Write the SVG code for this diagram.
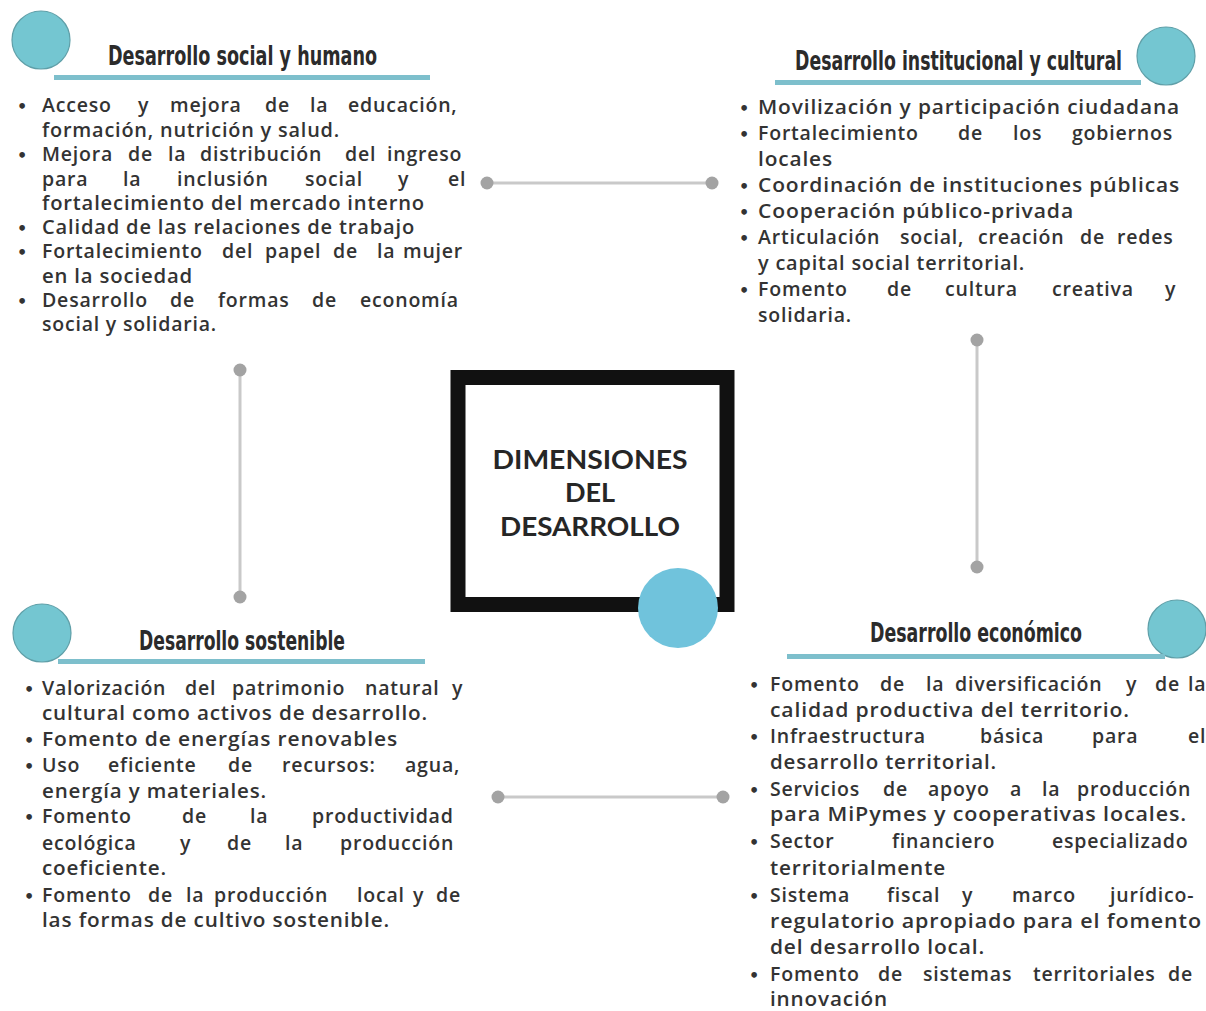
<svg xmlns="http://www.w3.org/2000/svg" width="1206" height="1011" viewBox="0 0 1206 1011">
<style>
.b{font-family:"Open Sans","Liberation Sans",sans-serif;font-size:19.5px;font-weight:600;letter-spacing:0.8px;fill:#333}
.bul{font-family:"DejaVu Sans",sans-serif;font-size:16px;font-weight:bold;fill:#333}
.h{font-family:"DejaVu Sans Condensed","DejaVu Sans","Liberation Sans",sans-serif;font-stretch:condensed;font-size:27px;font-weight:bold;fill:#2b2b2b}
.ul{fill:#7dbfcc}
.dot{fill:#74c6d1;stroke:#5f9fa8;stroke-width:1.2}
.c{font-family:Lato,"Liberation Sans",sans-serif;font-size:27px;font-weight:bold;fill:#262626;text-anchor:middle}
.ln{stroke:#c9c9c9;stroke-width:3;fill:none}
.ep{fill:#a3a3a3}
</style>
<rect width="1206" height="1011" fill="#ffffff"/>

<g id="connectors">
<line class="ln" x1="487" y1="183" x2="712" y2="183"/><circle class="ep" cx="487" cy="183" r="6.5"/><circle class="ep" cx="712" cy="183" r="6.5"/>
<line class="ln" x1="240" y1="370" x2="240" y2="597"/><circle class="ep" cx="240" cy="370" r="6.5"/><circle class="ep" cx="240" cy="597" r="6.5"/>
<line class="ln" x1="977" y1="340" x2="977" y2="567"/><circle class="ep" cx="977" cy="340" r="6.5"/><circle class="ep" cx="977" cy="567" r="6.5"/>
<line class="ln" x1="498" y1="797" x2="723" y2="797"/><circle class="ep" cx="498" cy="797" r="6.5"/><circle class="ep" cx="723" cy="797" r="6.5"/>
</g>

<g id="center">
<rect x="458" y="377.5" width="269" height="227" fill="#fff" stroke="#111" stroke-width="15"/>
<text class="c" x="590" y="469" textLength="195" lengthAdjust="spacingAndGlyphs">DIMENSIONES</text>
<text class="c" x="590" y="502">DEL</text>
<text class="c" x="590" y="536" textLength="180" lengthAdjust="spacingAndGlyphs">DESARROLLO</text>
<circle cx="678" cy="608" r="40" fill="#70c3dc"/>
</g>

<g id="social">
<circle class="dot" cx="41" cy="40" r="29"/>
<text class="h" x="108" y="65" textLength="269" lengthAdjust="spacingAndGlyphs">Desarrollo social y humano</text>
<rect class="ul" x="54" y="75" width="376" height="5"/>
<text class="bul" x="17" y="112">•</text>
<text class="b" y="112"><tspan x="42">Acceso</tspan><tspan x="138">y</tspan><tspan x="170">mejora</tspan><tspan x="265">de</tspan><tspan x="310">la</tspan><tspan x="348">educación,</tspan></text>
<text class="b" x="42" y="137" textLength="298" lengthAdjust="spacingAndGlyphs">formación, nutrición y salud.</text>
<text class="bul" x="17" y="161">•</text>
<text class="b" y="161"><tspan x="42">Mejora</tspan><tspan x="128">de</tspan><tspan x="168">la</tspan><tspan x="200">distribución</tspan><tspan x="345">del</tspan><tspan x="387">ingreso</tspan></text>
<text class="b" y="186"><tspan x="42">para</tspan><tspan x="123">la</tspan><tspan x="177">inclusión</tspan><tspan x="305">social</tspan><tspan x="398">y</tspan><tspan x="448">el</tspan></text>
<text class="b" x="42" y="210" textLength="383" lengthAdjust="spacingAndGlyphs">fortalecimiento del mercado interno</text>
<text class="bul" x="17" y="234">•</text>
<text class="b" x="42" y="234" textLength="373" lengthAdjust="spacingAndGlyphs">Calidad de las relaciones de trabajo</text>
<text class="bul" x="17" y="258">•</text>
<text class="b" y="258"><tspan x="42">Fortalecimiento</tspan><tspan x="222">del</tspan><tspan x="265">papel</tspan><tspan x="333">de</tspan><tspan x="377">la</tspan><tspan x="403">mujer</tspan></text>
<text class="b" x="42" y="283" textLength="151" lengthAdjust="spacingAndGlyphs">en la sociedad</text>
<text class="bul" x="17" y="307">•</text>
<text class="b" y="307"><tspan x="42">Desarrollo</tspan><tspan x="170">de</tspan><tspan x="218">formas</tspan><tspan x="312">de</tspan><tspan x="360">economía</tspan></text>
<text class="b" x="42" y="331" textLength="175" lengthAdjust="spacingAndGlyphs">social y solidaria.</text>
</g>

<g id="institucional">
<circle class="dot" cx="1166" cy="56" r="29"/>
<text class="h" x="795" y="70" textLength="327" lengthAdjust="spacingAndGlyphs">Desarrollo institucional y cultural</text>
<rect class="ul" x="775" y="80" width="366" height="5"/>
<text class="bul" x="739" y="114">•</text>
<text class="b" x="758" y="114" textLength="422" lengthAdjust="spacingAndGlyphs">Movilización y participación ciudadana</text>
<text class="bul" x="739" y="140">•</text>
<text class="b" y="140"><tspan x="758">Fortalecimiento</tspan><tspan x="958">de</tspan><tspan x="1013">los</tspan><tspan x="1072">gobiernos</tspan></text>
<text class="b" x="758" y="166" textLength="75" lengthAdjust="spacingAndGlyphs">locales</text>
<text class="bul" x="739" y="192">•</text>
<text class="b" x="758" y="192" textLength="422" lengthAdjust="spacingAndGlyphs">Coordinación de instituciones públicas</text>
<text class="bul" x="739" y="218">•</text>
<text class="b" x="758" y="218" textLength="316" lengthAdjust="spacingAndGlyphs">Cooperación público-privada</text>
<text class="bul" x="739" y="244">•</text>
<text class="b" y="244"><tspan x="758">Articulación</tspan><tspan x="900">social,</tspan><tspan x="978">creación</tspan><tspan x="1080">de</tspan><tspan x="1117">redes</tspan></text>
<text class="b" x="758" y="270" textLength="267" lengthAdjust="spacingAndGlyphs">y capital social territorial.</text>
<text class="bul" x="739" y="296">•</text>
<text class="b" y="296"><tspan x="758">Fomento</tspan><tspan x="887">de</tspan><tspan x="945">cultura</tspan><tspan x="1052">creativa</tspan><tspan x="1165">y</tspan></text>
<text class="b" x="758" y="322" textLength="94" lengthAdjust="spacingAndGlyphs">solidaria.</text>
</g>

<g id="sostenible">
<circle class="dot" cx="42" cy="633" r="29"/>
<text class="h" x="139" y="650" textLength="206" lengthAdjust="spacingAndGlyphs">Desarrollo sostenible</text>
<rect class="ul" x="58" y="659" width="367" height="5"/>
<text class="bul" x="24" y="695">•</text>
<text class="b" y="695"><tspan x="42">Valorización</tspan><tspan x="185">del</tspan><tspan x="232">patrimonio</tspan><tspan x="365">natural</tspan><tspan x="452">y</tspan></text>
<text class="b" x="42" y="720" textLength="386" lengthAdjust="spacingAndGlyphs">cultural como activos de desarrollo.</text>
<text class="bul" x="24" y="746">•</text>
<text class="b" x="42" y="746" textLength="356" lengthAdjust="spacingAndGlyphs">Fomento de energías renovables</text>
<text class="bul" x="24" y="772">•</text>
<text class="b" y="772"><tspan x="42">Uso</tspan><tspan x="108">eficiente</tspan><tspan x="228">de</tspan><tspan x="282">recursos:</tspan><tspan x="405">agua,</tspan></text>
<text class="b" x="42" y="798" textLength="225" lengthAdjust="spacingAndGlyphs">energía y materiales.</text>
<text class="bul" x="24" y="823">•</text>
<text class="b" y="823"><tspan x="42">Fomento</tspan><tspan x="182">de</tspan><tspan x="250">la</tspan><tspan x="312">productividad</tspan></text>
<text class="b" y="850"><tspan x="42">ecológica</tspan><tspan x="180">y</tspan><tspan x="227">de</tspan><tspan x="285">la</tspan><tspan x="340">producción</tspan></text>
<text class="b" x="42" y="875" textLength="125" lengthAdjust="spacingAndGlyphs">coeficiente.</text>
<text class="bul" x="24" y="902">•</text>
<text class="b" y="902"><tspan x="42">Fomento</tspan><tspan x="148">de</tspan><tspan x="186">la</tspan><tspan x="214">producción</tspan><tspan x="357">local</tspan><tspan x="413">y</tspan><tspan x="436">de</tspan></text>
<text class="b" x="42" y="927" textLength="348" lengthAdjust="spacingAndGlyphs">las formas de cultivo sostenible.</text>
</g>

<g id="economico">
<circle class="dot" cx="1177" cy="629" r="29"/>
<text class="h" x="870" y="642" textLength="212" lengthAdjust="spacingAndGlyphs">Desarrollo económico</text>
<rect class="ul" x="787" y="654" width="378" height="5"/>
<text class="bul" x="749" y="691">•</text>
<text class="b" y="691"><tspan x="770">Fomento</tspan><tspan x="880">de</tspan><tspan x="926">la</tspan><tspan x="955">diversificación</tspan><tspan x="1126">y</tspan><tspan x="1155">de</tspan><tspan x="1188">la</tspan></text>
<text class="b" x="770" y="717" textLength="360" lengthAdjust="spacingAndGlyphs">calidad productiva del territorio.</text>
<text class="bul" x="749" y="743">•</text>
<text class="b" y="743"><tspan x="770">Infraestructura</tspan><tspan x="980">básica</tspan><tspan x="1092">para</tspan><tspan x="1188">el</tspan></text>
<text class="b" x="770" y="769" textLength="227" lengthAdjust="spacingAndGlyphs">desarrollo territorial.</text>
<text class="bul" x="749" y="796">•</text>
<text class="b" y="796"><tspan x="770">Servicios</tspan><tspan x="883">de</tspan><tspan x="928">apoyo</tspan><tspan x="1010">a</tspan><tspan x="1042">la</tspan><tspan x="1077">producción</tspan></text>
<text class="b" x="770" y="821" textLength="417" lengthAdjust="spacingAndGlyphs">para MiPymes y cooperativas locales.</text>
<text class="bul" x="749" y="848">•</text>
<text class="b" y="848"><tspan x="770">Sector</tspan><tspan x="892">financiero</tspan><tspan x="1052">especializado</tspan></text>
<text class="b" x="770" y="875" textLength="176" lengthAdjust="spacingAndGlyphs">territorialmente</text>
<text class="bul" x="749" y="902">•</text>
<text class="b" y="902"><tspan x="770">Sistema</tspan><tspan x="887">fiscal</tspan><tspan x="962">y</tspan><tspan x="1012">marco</tspan><tspan x="1110">jurídico-</tspan></text>
<text class="b" x="770" y="928" textLength="432" lengthAdjust="spacingAndGlyphs">regulatorio apropiado para el fomento</text>
<text class="b" x="770" y="954" textLength="215" lengthAdjust="spacingAndGlyphs">del desarrollo local.</text>
<text class="bul" x="749" y="981">•</text>
<text class="b" y="981"><tspan x="770">Fomento</tspan><tspan x="878">de</tspan><tspan x="923">sistemas</tspan><tspan x="1033">territoriales</tspan><tspan x="1168">de</tspan></text>
<text class="b" x="770" y="1006" textLength="118" lengthAdjust="spacingAndGlyphs">innovación</text>
</g>
</svg>
